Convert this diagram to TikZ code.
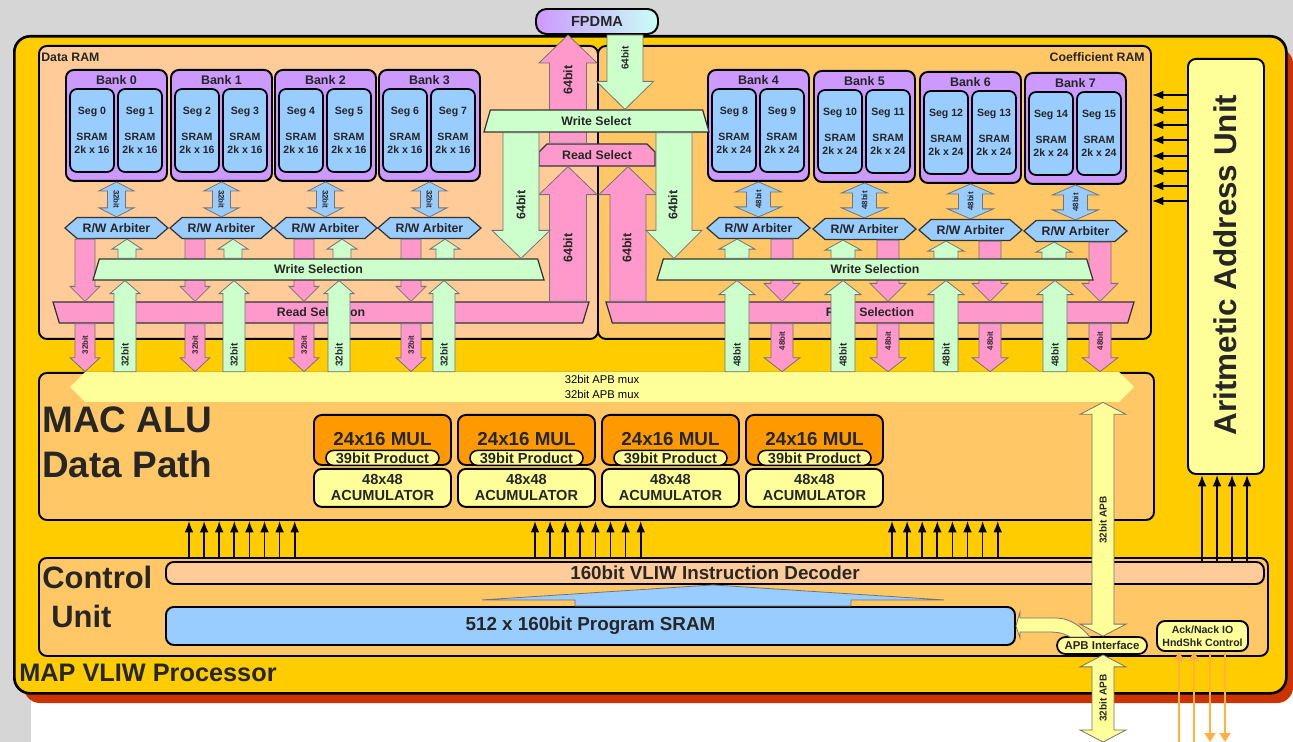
\documentclass[tikz,border=0pt]{standalone}
\usepackage{fontspec}
\setmainfont{Liberation Sans}
\usetikzlibrary{arrows.meta,positioning,calc,shapes.geometric,shapes.symbols,shapes.misc}
\definecolor{ProcYellow}{HTML}{FFCC00}
\definecolor{ShadowRed}{HTML}{CC3300}
\definecolor{RamPeach}{HTML}{FFCC99}
\definecolor{RamOrange}{HTML}{FFC766}
\definecolor{BankPurple}{HTML}{CC99FF}
\definecolor{SegBlue}{HTML}{99CCFF}
\definecolor{BusPink}{HTML}{FF99CC}
\definecolor{BusGreen}{HTML}{CCFFCC}
\definecolor{PaleYellow}{HTML}{FFFF99}
\definecolor{MulOrange}{HTML}{FF9900}
\newcommand{\px}{0.02cm}
\tikzset{
  fsl/.style args={#1/#2}{font=\fontsize{#1}{#2}\selectfont\bfseries,text=black!85},
  fs/.style={fsl=#1/#1},
  unit/.style={draw,line width=1.1pt,rounded corners=4.5pt,inner sep=0pt},
  bus/.style args={#1/#2/#3}{draw=black!55,line width=.45pt,to path={
    -- ($(\tikztostart)!#1*\px!90:(\tikztotarget)$)
    -- ($(\tikztotarget)!#3*\px!(\tikztostart)!#1*\px!90:(\tikztotarget)$)
    -- ($(\tikztotarget)!#3*\px!(\tikztostart)!#2*\px!90:(\tikztotarget)$)
    -- (\tikztotarget)
    -- ($(\tikztotarget)!#3*\px!(\tikztostart)!#2*\px!-90:(\tikztotarget)$)
    -- ($(\tikztotarget)!#3*\px!(\tikztostart)!#1*\px!-90:(\tikztotarget)$)
    -- ($(\tikztostart)!#1*\px!-90:(\tikztotarget)$) -- cycle}},
  bustwo/.style args={#1/#2/#3}{draw=black!55,line width=.45pt,to path={
    -- ($(\tikztostart)!#3*\px!(\tikztotarget)!#2*\px!90:(\tikztotarget)$)
    -- ($(\tikztostart)!#3*\px!(\tikztotarget)!#1*\px!90:(\tikztotarget)$)
    -- ($(\tikztotarget)!#3*\px!(\tikztostart)!#1*\px!90:(\tikztotarget)$)
    -- ($(\tikztotarget)!#3*\px!(\tikztostart)!#2*\px!90:(\tikztotarget)$)
    -- (\tikztotarget)
    -- ($(\tikztotarget)!#3*\px!(\tikztostart)!#2*\px!-90:(\tikztotarget)$)
    -- ($(\tikztotarget)!#3*\px!(\tikztostart)!#1*\px!-90:(\tikztotarget)$)
    -- ($(\tikztostart)!#3*\px!(\tikztotarget)!#1*\px!-90:(\tikztotarget)$)
    -- ($(\tikztostart)!#3*\px!(\tikztotarget)!#2*\px!-90:(\tikztotarget)$)
    -- cycle}},
  pinkbus/.style={bus=#1,fill=BusPink},
  greenbus/.style={bus=#1,fill=BusGreen},
  bank/.style={unit,fill=BankPurple,anchor=north west,minimum width=101*\px,minimum height=111*\px},
  seg/.style={draw,line width=1pt,rounded corners=4pt,fill=SegBlue,minimum width=44*\px,
    minimum height=83*\px,inner sep=0pt,align=center,fsl=6/7.4},
  arbiter/.style={signal,signal to=west and east,signal pointer angle=82,draw=black!80,line width=.7pt,
    fill=SegBlue,minimum width=103*\px,minimum height=21*\px,inner sep=0pt,fs=7},
  selbox/.style={trapezium,trapezium stretches body,trapezium angle=55,draw=black!80,line width=.7pt,
    inner sep=0pt,minimum height=21*\px,fs=7},
  sig/.style={draw=black,line width=1pt,-{Latex[length=6.5pt,width=5pt]}},
  ack/.style={draw=MulOrange!75,line width=1.1pt,-{Triangle[length=5pt,width=6pt]}},
  tinylbl/.style={rotate=90,inner sep=0pt,fs=4.5},
  midlbl/.style={rotate=90,inner sep=0pt,fs=5.7},
  biglbl/.style={rotate=90,inner sep=0pt,fs=7.1},
}
\begin{document}
\begin{tikzpicture}[x=\px,y=-\px]
  \useasboundingbox (0,0) rectangle (1293,742);
  \fill[black!16] (0,0) rectangle (1293,742);
  \fill[white] (31,690) rectangle (1293,742);
  % processor with its shadow
  \fill[ShadowRed,rounded corners=9pt] (24,48) rectangle (1293,703);
  \node[unit,line width=1.5pt,rounded corners=9pt,fill=ProcYellow,minimum width=1272*\px,minimum height=657*\px,anchor=north west] (proc) at (13,35) {};
  \node[fs=14.4,anchor=base west,inner sep=0pt] (proclbl) at (19,681) {MAP VLIW Processor};
  % the two RAM halves
  \node[unit,fill=RamPeach,minimum width=559*\px,minimum height=293*\px,anchor=north west] (dram) at (38,45) {};
  \node[unit,fill=RamOrange,minimum width=553*\px,minimum height=293*\px,anchor=north west] (cram) at (597,45) {};
  \node[fs=7,anchor=west,inner sep=0pt] (dramlbl) at (41,57) {Data RAM};
  \node[fs=7,anchor=east,inner sep=0pt] (cramlbl) at (1145,57) {Coefficient RAM};
  % banks, segments, arbiters
  \foreach \i/\x/\y/\b in {0/65/69/16,1/170/69/16,2/274/69/16,3/378/69/16,4/707/69/24,5/813/70/24,6/919/71/24,7/1024/72/24}{
    \pgfmathtruncatemacro{\sa}{2*\i}
    \pgfmathtruncatemacro{\sb}{2*\i+1}
    \node[bank] (bank\i) at (\x,\y) {};
    \node[fs=7.1,inner sep=0pt] (banklbl\i) at ($(bank\i.north)+(0,11)$) {Bank \i};
    \node[seg] (seg\sa) at ($(bank\i.north west)+(27,61.5)$) {Seg \sa\\[7.4pt]SRAM\\2k x \b};
    \node[seg] (seg\sb) at ($(bank\i.north west)+(75,61.5)$) {Seg \sb\\[7.4pt]SRAM\\2k x \b};
    \node[arbiter] (arb\i) at ($(bank\i.north)+(0,159)$) {R/W Arbiter};
  }
  \foreach \i in {0,...,3}{
    \draw[bustwo=9/17.5/9,fill=SegBlue] (bank\i.south) to (arb\i.north);
    \node[tinylbl,rotate=180] (blk\i) at ($(bank\i.south)!.5!(arb\i.north)$) {32bit};
  }
  \foreach \i in {4,...,7}{
    \draw[bustwo=12/23/10,fill=SegBlue] (bank\i.south) to (arb\i.north);
    \node[tinylbl] (blk\i) at ($(bank\i.south)!.5!(arb\i.north)$) {48bit};
  }
  % MAC ALU
  \node[unit,fill=RamOrange,minimum width=1115*\px,minimum height=147*\px,anchor=north west] (alu) at (38,372) {};
  \node[signal,signal to=west and east,signal pointer angle=90,fill=PaleYellow,minimum width=1064*\px,minimum height=30*\px,inner sep=0pt,align=center,font=\fontsize{6.4}{8}\selectfont] (mux) at (602,387) {32bit APB mux\\32bit APB mux};
  \node[fs=21,anchor=base west,inner sep=0pt] (alua) at (42,433) {MAC ALU};
  \node[fs=21,anchor=base west,inner sep=0pt] (alub) at (42,478) {Data Path};
  \foreach \i/\x in {0/313,1/457,2/601,3/745}{
    \node[unit,fill=MulOrange,minimum width=137*\px,minimum height=50*\px,anchor=north west,fs=10.7,text depth=1.5pt] (mul\i) at (\x,414) {24x16 MUL};
    \node[draw,line width=.9pt,rounded rectangle,fill=PaleYellow,minimum width=113*\px,minimum height=15*\px,inner sep=0pt,fs=8.3] (prod\i) at ($(mul\i.south)+(0,-8)$) {39bit Product};
    \node[unit,fill=PaleYellow,minimum width=137*\px,minimum height=38*\px,align=center,fsl=8.3/9.1,anchor=north] (acc\i) at ($(mul\i.south)+(0,2)$) {48x48\\ACUMULATOR};
  }
  % read and write selection
  \node[selbox,fill=BusPink,shape border rotate=180,minimum width=536*\px] (rsell) at (321,312.5) {Read Selection};
  \node[selbox,fill=BusPink,shape border rotate=180,minimum width=528*\px] (rselr) at (870,312.5) {Read Selection};
  \foreach \i/\p/\g/\h in {0/85/127/125,1/195/233/234,2/304/342/339,3/411/445/444}{
    \coordinate (pk\i) at (\p,0);
    \draw[pinkbus=10/15/15] (arb\i.south -| pk\i) to (rsell.north -| pk\i);
  }
  \foreach \i/\p/\g/\h in {4/782/737/737,5/888/843/843,6/990/946/946,7/1100/1054/1055}{
    \coordinate (pk\i) at (\p,0);
    \draw[pinkbus=11/18/18] (arb\i.south -| pk\i) to (rselr.north -| pk\i);
  }
  \node[selbox,fill=BusGreen,minimum width=451*\px] (wsell) at (318.5,269.5) {Write Selection};
  \node[selbox,fill=BusGreen,minimum width=436*\px] (wselr) at (875,269.5) {Write Selection};
  \foreach \i/\p/\g/\h in {0/85/127/125,1/195/233/234,2/304/342/339,3/411/445/444}{
    \coordinate (gu\i) at (\g,0);
    \coordinate (gl\i) at (\h,0);
    \draw[greenbus=9/15/10] (wsell.north -| gu\i) to (arb\i.south -| gu\i);
    \draw[greenbus=11/15/13] (mux.north -| gl\i) to (wsell.south -| gl\i);
    \node[midlbl] (gll\i) at ($(gl\i)+(0,355)$) {32bit};
    \draw[pinkbus=10/15/14] (rsell.south -| pk\i) to (mux.north -| pk\i);
    \node[tinylbl] (pkl\i) at ($(pk\i)+(0,345)$) {32bit};
  }
  \foreach \i/\p/\g/\h in {4/782/737/737,5/888/843/843,6/990/946/946,7/1100/1054/1055}{
    \coordinate (gu\i) at (\g,0);
    \coordinate (gl\i) at (\h,0);
    \draw[greenbus=12/18/10] (wselr.north -| gu\i) to (arb\i.south -| gu\i);
    \draw[greenbus=12/18/14] (mux.north -| gl\i) to (wselr.south -| gl\i);
    \node[midlbl] (gll\i) at ($(gl\i)+(0,355)$) {48bit};
    \draw[pinkbus=11/18/14] (rselr.south -| pk\i) to (mux.north -| pk\i);
    \node[tinylbl] (pkl\i) at ($(pk\i)+(0,341)$) {48bit};
  }
  % FPDMA with the 64bit buses
  \node[draw,line width=1.1pt,rounded corners=6pt,left color=BankPurple,right color=BusGreen!50!cyan!35,minimum width=122*\px,minimum height=25*\px,inner sep=0pt,fs=8.3] (fpdma) at (597,21.5) {FPDMA};
  \node[chamfered rectangle,chamfered rectangle corners={north west,north east},chamfered rectangle xsep=3pt,chamfered rectangle ysep=2pt,draw=black!80,line width=.7pt,fill=BusPink,minimum width=116*\px,minimum height=22*\px,inner sep=0pt,fs=7] (rdsel) at (597,155) {Read Select};
  \coordinate (dmaup) at (568,0);
  \coordinate (dmadn) at (625,0);
  \coordinate (rdl) at (568,0);
  \coordinate (rdr) at (628,0);
  \coordinate (wrl) at (521,0);
  \coordinate (wrr) at (674,0);
  \draw[pinkbus=18.5/29/28] (rdsel.north -| dmaup) to (fpdma.south -| dmaup);
  \node[selbox,fill=BusGreen,minimum width=225*\px,minimum height=22*\px] (wrsel) at (596.5,121) {Write Select};
  \draw[pinkbus=18.5/29/28] (rsell.north -| rdl) to (rdsel.south -| rdl);
  \draw[pinkbus=18/29/28] (rselr.north -| rdr) to (rdsel.south -| rdr);
  \draw[greenbus=18/29/28] (wrsel.south -| wrl) to (wsell.north -| wrl);
  \draw[greenbus=18/28/28] (wrsel.south -| wrr) to (wselr.north -| wrr);
  \draw[greenbus=18/28.5/28] (fpdma.south -| dmadn) to (wrsel.north -| dmadn);
  \node[biglbl] (lbla) at (568,80) {64bit};
  \node[biglbl] (lblb) at (568,248) {64bit};
  \node[biglbl] (lblc) at (627,248) {64bit};
  \node[biglbl] (lbld) at (521,205) {64bit};
  \node[biglbl] (lble) at (673,205) {64bit};
  \node[midlbl] (lblf) at (625,58) {64bit};
  % control unit
  \node[unit,fill=RamOrange,minimum width=1229*\px,minimum height=98*\px,anchor=north west] (ctrl) at (38,557) {};
  \node[fs=17.6,anchor=base west,inner sep=0pt] (ctrla) at (42,588) {Control};
  \node[fs=17.6,anchor=base west,inner sep=0pt] (ctrlb) at (51,627) {Unit};
  \node[unit,fill=RamPeach,minimum width=1098*\px,minimum height=22*\px,anchor=north west,fs=10.7] (dec) at (165,561) {160bit VLIW Instruction Decoder};
  \node[unit,fill=SegBlue,minimum width=849*\px,minimum height=38*\px,anchor=north west,fs=10.7] (sram) at (165,606) {512 x 160bit Program SRAM};
  \coordinate (pgm) at (713,0);
  \draw[bus=138/231/15,fill=SegBlue] (sram.north -| pgm) to (dec.south -| pgm);
  % address unit
  \node[unit,fill=PaleYellow,minimum width=76*\px,minimum height=415*\px,anchor=north west] (aau) at (1187,58) {};
  \node[fs=17.9,rotate=90,inner sep=0pt] (aaulbl) at (1225,265) {Aritmetic Address Unit};
  \foreach \i/\y in {0/95,1/110,2/125,3/140,4/156,5/171,6/186,7/201}{
    \coordinate (ad\i) at (0,\y);
    \draw[sig] (aau.west |- ad\i) -- (cram.east |- ad\i);
  }
  \foreach \i/\x in {0/1202,1/1217,2/1232,3/1247}{
    \coordinate (au\i) at (\x,0);
    \draw[sig] (dec.north -| au\i) -- (aau.south -| au\i);
  }
  \foreach \j/\s in {0/189,1/535,2/892}{
    \foreach \i in {0,...,7}{
      \coordinate (ct\j\i) at ({\s+15.1*\i},0);
      \draw[sig] (ctrl.north -| ct\j\i) -- (alu.south -| ct\j\i);
    }
  }
  % APB
  \node[draw,line width=1pt,rounded rectangle,fill=PaleYellow,minimum width=90*\px,minimum height=17*\px,inner sep=0pt,fs=6.5] (apbif) at (1102,645.5) {APB Interface};
  \draw[draw=black!55,line width=.45pt,fill=PaleYellow] (sram.east) -- (1020,612) -- (1020,618) -- (1055,618) .. controls (1072,618) and (1082,628) .. (1090,637) -- (1070,637) .. controls (1062,632) and (1055,632) .. (1045,632) -- (1020,632) -- (1020,638) -- cycle;
  \coordinate (apbx) at (1103,0);
  \coordinate (apbout) at (1103,742);
  \draw[bustwo=11/23/12,fill=PaleYellow] (apbif.north -| apbx) to (mux.south -| apbx);
  \draw[bustwo=11/23/12,fill=PaleYellow] (apbif.south -| apbx) to (apbout);
  \node[midlbl] (apbla) at (1103,520) {32bit APB};
  \node[midlbl] (apblb) at (1103,698) {32bit APB};
  \node[unit,fill=PaleYellow,minimum width=91*\px,minimum height=30*\px,align=center,fsl=6/7.4] (hnd) at (1202.5,636) {Ack/Nack IO\\HndShk Control};
  \foreach \i/\x in {0/1179,1/1194,2/1210,3/1225}{
    \coordinate (io\i) at (\x,742);
  }
  \draw[ack] (io0) -- (hnd.south -| io0);
  \draw[ack] (io1) -- (hnd.south -| io1);
  \draw[ack] (hnd.south -| io2) -- (io2);
  \draw[ack] (hnd.south -| io3) -- (io3);
\end{tikzpicture}
\end{document}
